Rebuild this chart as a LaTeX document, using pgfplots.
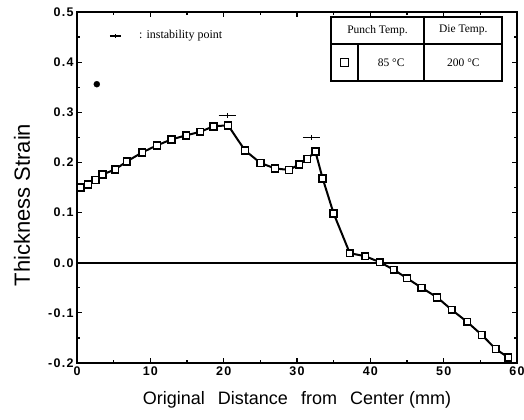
\documentclass[border=0pt]{standalone}
\usepackage{fontspec}
\setmainfont{Liberation Sans}
\newfontfamily\tickfont[LetterSpace=10]{Liberation Sans}
\newfontfamily\serif{Liberation Serif}
\usepackage{pgfplots}
\pgfplotsset{compat=1.18}
\begin{document}
\begin{tikzpicture}
\begin{axis}[
  scale only axis,
  width=440pt, height=351pt,
  xmin=0, xmax=60, ymin=-0.2, ymax=0.5,
  xtick={0,10,...,60},
  ytick={-0.2,-0.1,...,0.5},
  minor x tick num=1, minor y tick num=1,
  tick align=inside,
  major tick length=5pt, minor tick length=3pt,
  axis line style={line width=1.6pt},
  every tick/.style={line width=1.2pt, black},
  /pgf/number format/assume math mode=true,
  ticklabel style={font=\tickfont\bfseries\fontsize{12.5}{14}\selectfont},
  yticklabel style={/pgf/number format/fixed, /pgf/number format/fixed zerofill, /pgf/number format/precision=1},
  xlabel={Original\hspace{0.45em} Distance\hspace{0.45em} from\hspace{0.45em} Center (mm)},
  ylabel={Thickness Strain},
  xlabel style={font=\fontsize{18}{20}\selectfont, at={(axis description cs:0.5,-0.105)}, anchor=center},
  ylabel style={font=\fontsize{22}{24}\selectfont, at={(axis description cs:-0.125,0.45)}, anchor=center},
  clip=false,
]
% zero line
\addplot[line width=1.8pt, black] coordinates {(0,0) (60,0)};
% main series
\addplot[line width=2pt, black, mark=square*, mark size=3.4pt,
  mark options={fill=white, line width=1.6pt, solid}] coordinates {
(0.5,0.150) (1.5,0.156) (2.5,0.165) (3.5,0.176) (5.2,0.186) (6.8,0.202)
(8.9,0.220) (10.9,0.234) (12.9,0.246) (14.9,0.254) (16.8,0.261) (18.6,0.272)
(20.6,0.274) (22.9,0.224) (25.0,0.199) (27.0,0.188) (28.9,0.185) (30.3,0.196)
(31.4,0.207) (32.5,0.222) (33.5,0.168) (35.0,0.098) (37.2,0.019) (39.3,0.013)
(41.3,0.001) (43.2,-0.014) (45.0,-0.031) (47.0,-0.050) (49.1,-0.069) (51.1,-0.094)
(53.2,-0.118) (55.2,-0.144) (57.1,-0.172) (58.8,-0.189)
};
% isolated dot
\addplot[only marks, mark=*, mark size=3pt, black] coordinates {(2.7,0.356)};
% instability points
\addplot[line width=1.5pt, black, mark=|, mark size=2.5pt, mark indices={2}] coordinates {(19.3,0.294) (20.5,0.294) (21.7,0.294)};
\addplot[line width=1.5pt, black, mark=|, mark size=2.5pt, mark indices={2}] coordinates {(30.8,0.250) (32.0,0.250) (33.2,0.250)};
% legend marker
\addplot[line width=1.3pt, black, mark=|, mark size=2pt, mark indices={2}] coordinates {(4.5,0.452) (5.25,0.452) (6.0,0.452)};
\node[anchor=west, font=\serif\fontsize{12}{14}\selectfont] at (axis cs:8.0,0.452) {: instability point};
% table
\draw[line width=1.5pt] (rel axis cs:0.577,0.803) rectangle (rel axis cs:0.966,0.986);
\draw[line width=1.5pt] (rel axis cs:0.577,0.909) -- (rel axis cs:0.966,0.909);
\draw[line width=1.5pt] (rel axis cs:0.789,0.803) -- (rel axis cs:0.789,0.986);
\draw[line width=1.5pt] (rel axis cs:0.639,0.803) -- (rel axis cs:0.639,0.909);
\node[font=\serif\fontsize{11.5}{13}\selectfont] at (rel axis cs:0.683,0.948) {Punch Temp.};
\node[font=\serif\fontsize{11.5}{13}\selectfont] at (rel axis cs:0.878,0.948) {Die Temp.};
\node[font=\serif\fontsize{11.5}{13}\selectfont] at (rel axis cs:0.714,0.856) {85 °C};
\node[font=\serif\fontsize{11.5}{13}\selectfont] at (rel axis cs:0.878,0.856) {200 °C};
\node[draw, line width=1.6pt, minimum size=8pt, inner sep=0pt] at (rel axis cs:0.608,0.856) {};
\end{axis}
\pgfresetboundingbox
\path ([xshift=-77pt,yshift=-57pt]current axis.south west) rectangle ([xshift=7pt,yshift=12pt]current axis.north east);
\end{tikzpicture}
\end{document}
